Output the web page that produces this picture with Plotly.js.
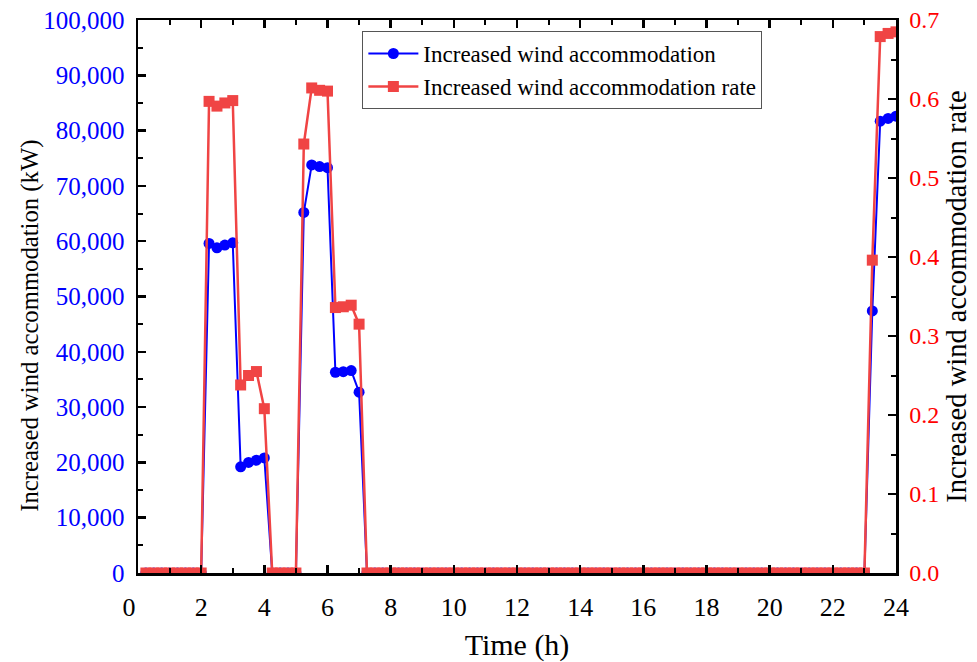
<!DOCTYPE html>
<html>
<head>
<meta charset="utf-8">
<script src="https://cdn.plot.ly/plotly-3.0.1.min.js"></script>
<style>html,body{margin:0;padding:0;background:#fff;}#chart{width:977px;height:662px;}</style>
</head>
<body>
<div id="chart"></div>
<script>
const timeH = [0.25,0.5,0.75,1,1.25,1.5,1.75,2,2.25,2.5,2.75,3,3.25,3.5,3.75,4,4.25,4.5,4.75,5,5.25,5.5,5.75,6,6.25,6.5,6.75,7,7.25,7.5,7.75,8,8.25,8.5,8.75,9,9.25,9.5,9.75,10,10.25,10.5,10.75,11,11.25,11.5,11.75,12,12.25,12.5,12.75,13,13.25,13.5,13.75,14,14.25,14.5,14.75,15,15.25,15.5,15.75,16,16.25,16.5,16.75,17,17.25,17.5,17.75,18,18.25,18.5,18.75,19,19.25,19.5,19.75,20,20.25,20.5,20.75,21,21.25,21.5,21.75,22,22.25,22.5,22.75,23,23.25,23.5,23.75,24];

const windKW = [0,0,0,0,0,0,0,0,
  59600,58800,59300,59700,
  19200,20000,20400,20800,
  0,0,0,0,
  65200,73800,73500,73300,
  36300,36400,36600,32700,
  0,0,0,0,0,0,0,0,0,0,0,0,0,0,0,0,
  0,0,0,0,0,0,0,0,0,0,0,0,0,0,0,0,
  0,0,0,0,0,0,0,0,0,0,0,0,0,0,0,0,
  0,0,0,0,0,0,0,0,0,0,0,0,0,0,0,0,
  47400,81700,82200,82600];

const windRate = [0,0,0,0,0,0,0,0,
  0.597,0.591,0.595,0.598,
  0.238,0.250,0.255,0.208,
  0,0,0,0,
  0.543,0.614,0.611,0.610,
  0.336,0.337,0.339,0.315,
  0,0,0,0,0,0,0,0,0,0,0,0,0,0,0,0,
  0,0,0,0,0,0,0,0,0,0,0,0,0,0,0,0,
  0,0,0,0,0,0,0,0,0,0,0,0,0,0,0,0,
  0,0,0,0,0,0,0,0,0,0,0,0,0,0,0,0,
  0.396,0.679,0.683,0.685];

const xTicks = [0,2,4,6,8,10,12,14,16,18,20,22,24];
const xTickText = ['0\u2002\u2009','2','4','6','8','10','12','14','16','18','20','22','24'];
const seriesNames = ['Increased wind accommodation','Increased wind accommodation rate'];
const leftTitle = 'Increased wind accommodation (kW)';

const FONT = 'Liberation Serif, Times New Roman, serif';
const BLUE = '#0000FF';
const RED = '#F04444';

const traces = [
  {x: timeH, y: windKW, name: seriesNames[0], type: 'scatter', mode: 'lines+markers',
   line: {color: BLUE, width: 2}, marker: {symbol: 'circle', size: 11, color: BLUE},
   legendgroup: 'a'},
  {x: timeH, y: windRate, name: seriesNames[1], type: 'scatter', mode: 'lines+markers', yaxis: 'y2',
   line: {color: RED, width: 2.5}, marker: {symbol: 'square', size: 11, color: RED},
   legendgroup: 'b'}
];

const axisCommon = {
  showgrid: false, zeroline: false, showline: true, linecolor: '#000', linewidth: 2.5,
  ticks: 'inside', ticklen: 8, tickwidth: 2.5, tickcolor: '#000'
};

const layout = {
  width: 977, height: 662,
  margin: {l: 138, r: 81, t: 20, b: 89},
  paper_bgcolor: '#fff', plot_bgcolor: '#fff',
  font: {family: FONT, color: '#000'},
  showlegend: true,
  legend: {x: 0.296, y: 0.98, xanchor: 'left', yanchor: 'top',
    bgcolor: '#fff', bordercolor: '#555', borderwidth: 1,
    font: {family: FONT, size: 23, color: '#000'}, itemwidth: 50,
    traceorder: 'grouped', tracegroupgap: 0},
  xaxis: Object.assign({}, axisCommon, {
    range: [0, 24], tickvals: xTicks, ticktext: xTickText, mirror: 'ticks',
    minor: {dtick: 1, ticks: 'inside', ticklen: 5, tickwidth: 2, tickcolor: '#000'},
    tickfont: {family: FONT, size: 26, color: '#000'}, ticklabelstandoff: 9,
    title: {text: 'Time (h)', font: {family: FONT, size: 30, color: '#000'}, standoff: 15}
  }),
  yaxis: Object.assign({}, axisCommon, {
    range: [0, 100000], dtick: 10000, tickformat: ',d', mirror: false,
    minor: {dtick: 5000, ticks: 'inside', ticklen: 5, tickwidth: 2, tickcolor: '#000'},
    tickfont: {family: FONT, size: 25, color: BLUE}, ticklabelstandoff: 6
  }),
  yaxis2: Object.assign({}, axisCommon, {
    overlaying: 'y', side: 'right', anchor: 'x',
    range: [0, 0.7], dtick: 0.1, tickformat: '.1f',
    minor: {dtick: 0.05, ticks: 'inside', ticklen: 5, tickwidth: 2, tickcolor: '#000'},
    tickfont: {family: FONT, size: 24, color: '#FF0000'}, ticklabelstandoff: 6,
    title: {text: 'Increased wind accommodation rate', font: {family: FONT, size: 28.5, color: '#000'}, standoff: 8}
  }),
  annotations: [{
    text: leftTitle, xref: 'paper', yref: 'paper', x: -0.1425, y: 0.447,
    xanchor: 'center', yanchor: 'middle', textangle: -90, showarrow: false,
    font: {family: FONT, size: 24.7, color: '#000'}
  }]
};

Plotly.newPlot('chart', traces, layout, {displayModeBar: false, staticPlot: true});
</script>
</body>
</html>
